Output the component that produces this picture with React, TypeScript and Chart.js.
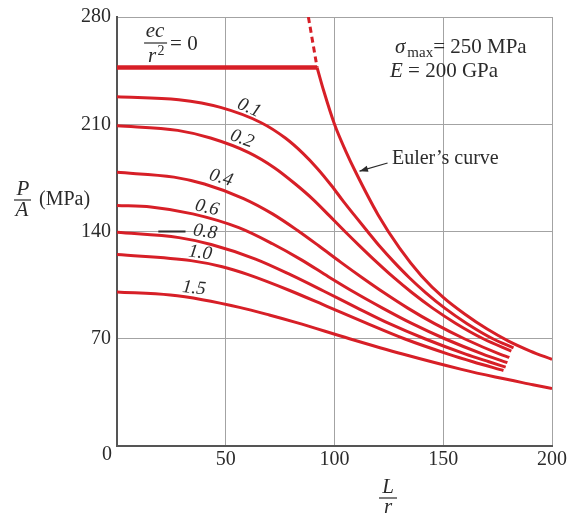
import React, { useEffect, useRef } from "react";
import { Chart, registerables } from "chart.js";

Chart.register(...registerables);

const RED = "#d71f27";
const TEXT = "#2b2b2b";
const GRID = "#a3a3a3";
const AXIS = "#555555";
const SERIF = '"Liberation Serif", "DejaVu Serif", serif';

const xTicks = [0, 50, 100, 150, 200];
const yTicks = [0, 70, 140, 210, 280];
const xTickLabels = ["0", "50", "100", "150", "200"];
const yTickLabels = ["0", "70", "140", "210", "280"];

// ec/r^2 = 0 (yield limit)
const L_e0 = [0, 92];
const P_e0 = [247, 247];

// Euler's curve
const L_eulerDash = [88, 92];
const P_eulerDash = [280, 247];
const L_euler = [92, 95, 100, 105, 110, 120, 130, 140, 150, 160, 170, 180, 190, 200];
const P_euler = [247, 232, 210, 193, 178, 151, 129, 111, 97, 86, 76.5, 68.5, 62, 56.5];

// secant-formula curves, ec/r^2 values
const curveNames = ["0.1", "0.2", "0.4", "0.6", "0.8", "1.0", "1.5"];
const L_e01 = [0, 28.4, 47.6, 66.3, 77.4, 85.5, 92.2, 98.3, 103.9, 109.5, 115.2, 121.0, 127.4, 134.3, 142.0, 150.7, 160.8, 172.8, 182.3];
const P_e01 = [228, 226, 221, 211, 201, 191, 181, 170.5, 160, 150, 140, 130, 120, 110, 100, 90, 80, 70, 64];
const L_e02 = [0, 27.9, 43.0, 60.6, 72.5, 82.0, 90.1, 97.5, 104.8, 112.0, 119.4, 127.2, 135.7, 145.1, 155.8, 168.4, 181.3];
const P_e02 = [209, 206, 201, 191.5, 181.5, 171, 161, 150.5, 140, 130, 120, 110, 100, 90, 80, 70, 62];
const L_e04 = [0, 26.2, 40.2, 58.2, 71.5, 82.7, 92.9, 102.8, 112.6, 122.8, 133.7, 145.8, 159.7, 176.0, 180.4];
const P_e04 = [178.6, 175.5, 171, 161.5, 151.5, 141, 130.5, 120, 110, 100, 90, 80, 70, 60, 57.8];
const L_e06 = [0, 15.6, 34.8, 56.0, 71.5, 84.8, 97.2, 109.5, 122.1, 135.5, 150.7, 168.2, 179.5];
const P_e06 = [157, 156, 151.5, 142.5, 132, 121.5, 110.5, 100, 90, 80, 70, 60, 54.4];
const L_e08 = [0, 28.5, 43.3, 63.7, 80.2, 95.2, 109.9, 125.0, 141.5, 160.3, 171.0, 178.7];
const P_e08 = [139.5, 136, 131.5, 122, 111.5, 101, 90.5, 80, 70, 60, 55, 51.5];
const L_e10 = [0, 34.0, 48.4, 60.0, 79.4, 96.8, 114.1, 132.1, 152.3, 163.6, 177.7];
const P_e10 = [125, 121, 117, 112, 101.5, 91, 80.5, 70, 60, 55, 49.3];
const L_e15 = [0, 24.5, 39.2, 56.3, 70.0, 82.6, 106.9, 131.3, 158.4, 173.9, 191.2, 200];
const P_e15 = [100.5, 98.5, 95.5, 90.5, 85.5, 80.5, 70, 60, 50, 45, 40, 37.5];

const curveL = [L_e01, L_e02, L_e04, L_e06, L_e08, L_e10, L_e15];
const curveP = [P_e01, P_e02, P_e04, P_e06, P_e08, P_e10, P_e15];

// curve label anchors (data coords) and rotation in degrees
const labelL = [60.7, 57.5, 47.8, 41.4, 40.5, 38.2, 35.4];
const labelP = [220.6, 200.4, 175, 155.4, 139.7, 126, 103];
const labelRot = [24, 20, 17, 13, 9, 8, 6];

const pts = (xs: number[], ys: number[]) => xs.map((x, i) => ({ x, y: ys[i] }));

const annotPlugin = {
  id: "annot",
  afterDatasetsDraw(chart: any) {
    const ctx: CanvasRenderingContext2D = chart.ctx;
    const xs = chart.scales.x;
    const ys = chart.scales.y;
    const a = chart.chartArea;
    const px = (v: number) => xs.getPixelForValue(v);
    const py = (v: number) => ys.getPixelForValue(v);
    const font = (size: number, italic = false) => `${italic ? "italic " : ""}${size}px ${SERIF}`;
    ctx.save();
    ctx.fillStyle = TEXT;
    ctx.strokeStyle = TEXT;

    // tick labels
    ctx.font = font(20);
    ctx.textAlign = "right";
    ctx.textBaseline = "middle";
    yTicks.forEach((v, i) => {
      if (v === 0) return;
      ctx.fillText(yTickLabels[i], a.left - 6, py(v));
    });
    ctx.fillText(yTickLabels[0], a.left - 5, a.bottom + 9);
    ctx.textAlign = "center";
    xTicks.forEach((v, i) => {
      if (v === 0) return;
      ctx.fillText(xTickLabels[i], px(v), a.bottom + 14);
    });

    // x title L / r
    const xt = 388;
    ctx.font = font(21, true);
    ctx.fillText("L", xt, a.bottom + 41);
    ctx.fillText("r", xt, a.bottom + 61);
    ctx.lineWidth = 1.2;
    ctx.beginPath();
    ctx.moveTo(xt - 9, a.bottom + 52);
    ctx.lineTo(xt + 9, a.bottom + 52);
    ctx.stroke();

    // y title P / A (MPa)
    ctx.font = font(21, true);
    ctx.fillText("P", 23, 189);
    ctx.fillText("A", 22, 210);
    ctx.beginPath();
    ctx.moveTo(14, 200);
    ctx.lineTo(31, 200);
    ctx.stroke();
    ctx.font = font(20);
    ctx.textAlign = "left";
    ctx.fillText("(MPa)", 39, 200);

    // ec/r^2 = 0
    const fx = px(17.5);
    ctx.textBaseline = "alphabetic";
    ctx.textAlign = "center";
    ctx.font = font(21, true);
    ctx.fillText("ec", fx, 37);
    ctx.beginPath();
    ctx.moveTo(fx - 11, 43);
    ctx.lineTo(fx + 12, 43);
    ctx.stroke();
    ctx.fillText("r", fx - 3, 62);
    ctx.font = font(14);
    ctx.fillText("2", fx + 6, 55);
    ctx.font = font(21);
    ctx.textAlign = "left";
    ctx.fillText("= 0", fx + 15, 50);
    ctx.textBaseline = "middle";

    // sigma max = 250 MPa, E = 200 GPa
    let sx = px(127.8);
    const sy = py(259.8);
    ctx.font = font(21, true);
    ctx.fillText("\u03c3", sx, sy);
    sx += ctx.measureText("\u03c3").width + 2;
    ctx.font = font(15);
    ctx.fillText("max", sx, sy + 5);
    sx += ctx.measureText("max").width;
    ctx.font = font(21);
    ctx.fillText("= 250 MPa", sx, sy);
    let ex = px(125.5);
    const ey = py(244.5);
    ctx.font = font(21, true);
    ctx.fillText("E", ex, ey);
    ex += ctx.measureText("E").width;
    ctx.font = font(21);
    ctx.fillText(" = 200 GPa", ex, ey);

    // Euler's curve label + arrow
    ctx.font = font(20);
    ctx.fillText("Euler\u2019s curve", px(126.4), py(187.3));
    const ax0 = px(124.4), ay0 = py(184.7), ax1 = px(111.5), ay1 = py(179.4);
    ctx.lineWidth = 1.2;
    ctx.beginPath();
    ctx.moveTo(ax0, ay0);
    ctx.lineTo(ax1, ay1);
    ctx.stroke();
    const ang = Math.atan2(ay1 - ay0, ax1 - ax0);
    ctx.beginPath();
    ctx.moveTo(ax1, ay1);
    ctx.lineTo(ax1 - 9 * Math.cos(ang - 0.35), ay1 - 9 * Math.sin(ang - 0.35));
    ctx.lineTo(ax1 - 9 * Math.cos(ang + 0.35), ay1 - 9 * Math.sin(ang + 0.35));
    ctx.closePath();
    ctx.fill();

    // leader line for 0.8
    ctx.lineWidth = 2;
    ctx.beginPath();
    ctx.moveTo(px(19), py(140));
    ctx.lineTo(px(31.5), py(140));
    ctx.stroke();

    // curve labels
    ctx.font = font(19, true);
    ctx.textAlign = "center";
    curveNames.forEach((n, i) => {
      ctx.save();
      ctx.translate(px(labelL[i]), py(labelP[i]));
      ctx.rotate((labelRot[i] * Math.PI) / 180);
      ctx.fillText(n, 0, 0);
      ctx.restore();
    });
    ctx.restore();
  },
};

export default function App() {
  const ref = useRef<HTMLCanvasElement>(null);
  useEffect(() => {
    if (!ref.current) return;
    const base = {
      borderColor: RED,
      backgroundColor: RED,
      pointRadius: 0,
      fill: false,
      cubicInterpolationMode: "monotone" as const,
      borderCapStyle: "butt" as const,
    };
    const datasets: any[] = [
      { ...base, data: pts(L_e0, P_e0), borderWidth: 4.5 },
      { ...base, data: pts(L_eulerDash, P_eulerDash), borderWidth: 3, borderDash: [6, 4] },
      { ...base, data: pts(L_euler, P_euler), borderWidth: 3 },
      ...curveL.map((xs, i) => ({ ...base, data: pts(xs, curveP[i]), borderWidth: 3 })),
    ];
    const chart = new Chart(ref.current, {
      type: "line",
      data: { datasets },
      options: {
        animation: false,
        responsive: false,
        devicePixelRatio: 1,
        parsing: false as any,
        layout: { padding: { left: 117, right: 19, top: 17, bottom: 69 } },
        plugins: { legend: { display: false }, tooltip: { enabled: false } },
        scales: {
          x: {
            type: "linear",
            min: 0,
            max: 200,
            ticks: { display: false, stepSize: 50 },
            grid: { color: GRID, lineWidth: 1, drawTicks: false },
            border: { color: AXIS, width: 2 },
          },
          y: {
            type: "linear",
            min: 0,
            max: 280,
            ticks: { display: false, stepSize: 70 },
            grid: { color: GRID, lineWidth: 1, drawTicks: false },
            border: { color: AXIS, width: 2 },
          },
        },
      },
      plugins: [annotPlugin],
    });
    return () => chart.destroy();
  }, []);
  return (
    <div style={{ position: "fixed", left: 0, top: 0, width: 571, height: 515, background: "#fff" }}>
      <canvas ref={ref} width={571} height={515} />
    </div>
  );
}
